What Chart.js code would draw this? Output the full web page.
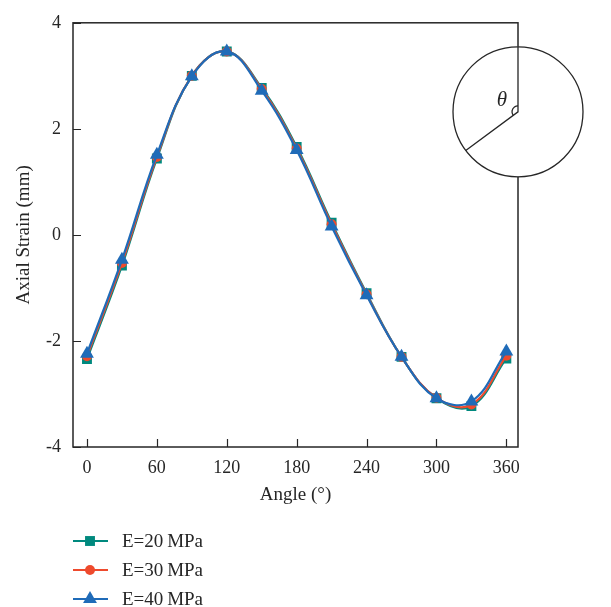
<!DOCTYPE html>
<html>
<head>
<meta charset="utf-8">
<script src="https://cdn.jsdelivr.net/npm/chart.js@4.4.1/dist/chart.umd.min.js"></script>
<style>
  html, body { margin: 0; padding: 0; background: #fff; }
  #wrap { width: 611px; height: 607px; }
</style>
</head>
<body>
<div id="wrap"><canvas id="strainChart"></canvas></div>
<script>
// Axial strain against angle for three moduli
const angles = [0, 30, 60, 90, 120, 150, 180, 210, 240, 270, 300, 330, 360];
const strain20 = [-2.34, -0.58, 1.44, 3.00, 3.46, 2.77, 1.66, 0.23, -1.10, -2.30, -3.08, -3.23, -2.33];
const strain30 = [-2.29, -0.53, 1.47, 3.00, 3.46, 2.75, 1.63, 0.20, -1.12, -2.30, -3.07, -3.20, -2.28];
const strain40 = [-2.24, -0.47, 1.51, 2.99, 3.46, 2.72, 1.60, 0.16, -1.14, -2.30, -3.08, -3.14, -2.20];
const xTicks = [0, 60, 120, 180, 240, 300, 360];
const yTicks = [-4, -2, 0, 2, 4];
const seriesNames = ['E=20\u2009MPa', 'E=30\u2009MPa', 'E=40\u2009MPa'];

const teal = '#00897e';
const red = '#ee4a2d';
const blue = '#1f6bb8';
const ink = '#262626';
const serif = '"Liberation Serif", "DejaVu Serif", serif';

function pts(ys) {
    return angles.map((a, i) => ({ x: a, y: ys[i] }));
}

const styles = [
    { color: teal, pointStyle: 'rect', radius: 7 },
    { color: red, pointStyle: 'circle', radius: 5 },
    { color: blue, pointStyle: 'triangle', radius: 8 },
];

// frame, inward ticks, axis titles
const framePlugin = {
    id: 'frame',
    beforeDatasetsDraw(chart) {
        const { ctx, chartArea: a, scales } = chart;
        ctx.save();
        ctx.strokeStyle = ink;
        ctx.lineWidth = 1.5;
        ctx.strokeRect(a.left, a.top, a.right - a.left, a.bottom - a.top);
        ctx.lineWidth = 1.2;
        ctx.beginPath();
        xTicks.forEach(v => {
            const x = Math.round(scales.x.getPixelForValue(v)) + 0.5;
            ctx.moveTo(x, a.bottom);
            ctx.lineTo(x, a.bottom - 8);
        });
        yTicks.forEach(v => {
            const y = Math.round(scales.y.getPixelForValue(v)) + 0.5;
            ctx.moveTo(a.left, y);
            ctx.lineTo(a.left + 8, y);
        });
        ctx.stroke();

        ctx.fillStyle = ink;
        ctx.font = '19px ' + serif;
        ctx.textAlign = 'center';
        ctx.textBaseline = 'middle';
        ctx.fillText('Angle (\u00b0)', (a.left + a.right) / 2, a.bottom + 48);
        ctx.translate(24, (a.top + a.bottom) / 2);
        ctx.rotate(-Math.PI / 2);
        ctx.fillText('Axial Strain (mm)', 0, 0);
        ctx.restore();
    },
    afterDraw(chart) {
        const { ctx, chartArea: a } = chart;
        ctx.save();

        // angle sketch in the top right corner
        const cx = a.right, cy = a.top + 89, r = 65;
        ctx.strokeStyle = ink;
        ctx.lineWidth = 1.3;
        ctx.fillStyle = '#fff';
        ctx.beginPath();
        ctx.arc(cx, cy, r, 0, Math.PI * 2);
        ctx.fill();
        ctx.stroke();
        const ang = Math.atan2(37, -50);
        ctx.beginPath();
        ctx.moveTo(cx, cy - r);
        ctx.lineTo(cx, cy);
        ctx.lineTo(cx + r * Math.cos(ang), cy + r * Math.sin(ang));
        ctx.stroke();
        ctx.beginPath();
        ctx.arc(cx, cy, 6, ang, Math.PI * 1.5);
        ctx.stroke();
        ctx.fillStyle = ink;
        ctx.font = 'italic 21px ' + serif;
        ctx.textAlign = 'center';
        ctx.textBaseline = 'middle';
        ctx.fillText('\u03b8', cx - 16, cy - 11);

        // legend
        ctx.font = '19px ' + serif;
        ctx.textAlign = 'left';
        styles.forEach((s, i) => {
            const y = 541 + i * 29;
            ctx.strokeStyle = s.color;
            ctx.lineWidth = 2;
            ctx.beginPath();
            ctx.moveTo(73, y);
            ctx.lineTo(108, y);
            ctx.stroke();
            ctx.fillStyle = s.color;
            Chart.helpers.drawPoint(ctx, { pointStyle: s.pointStyle, radius: s.radius, borderWidth: 0 }, 90, y);
            ctx.fillStyle = ink;
            ctx.fillText(seriesNames[i], 122, y + 1);
        });
        ctx.restore();
    }
};

const ctx = document.getElementById('strainChart').getContext('2d');
const strainChart = new Chart(ctx, {
    type: 'line',
    data: {
        datasets: [strain20, strain30, strain40].map((ys, i) => ({
            label: seriesNames[i],
            data: pts(ys),
            borderColor: styles[i].color,
            backgroundColor: styles[i].color,
            borderWidth: 2.2,
            pointStyle: styles[i].pointStyle,
            pointRadius: styles[i].radius,
            pointBorderWidth: 0,
            tension: 0.4,
            order: 3 - i,
        })),
    },
    options: {
        responsive: true,
        maintainAspectRatio: false,
        animation: false,
        layout: { padding: { top: 19, right: 93, left: 0, bottom: 0 } },
        plugins: {
            legend: { display: false },
            tooltip: { enabled: false },
        },
        scales: {
            x: {
                type: 'linear',
                min: -12,
                max: 370,
                afterBuildTicks: s => { s.ticks = xTicks.map(v => ({ value: v })); },
                afterFit: s => { s.height = 160; },
                grid: { display: false, drawTicks: false },
                border: { display: false },
                ticks: { color: ink, font: { family: serif, size: 18 }, padding: 10 },
            },
            y: {
                min: -4,
                max: 4,
                afterBuildTicks: s => { s.ticks = yTicks.map(v => ({ value: v })); },
                afterFit: s => { s.width = 73; },
                grid: { display: false, drawTicks: false },
                border: { display: false },
                ticks: { color: ink, font: { family: serif, size: 18 }, padding: 12 },
            },
        },
    },
    plugins: [framePlugin],
});
</script>
</body>
</html>
